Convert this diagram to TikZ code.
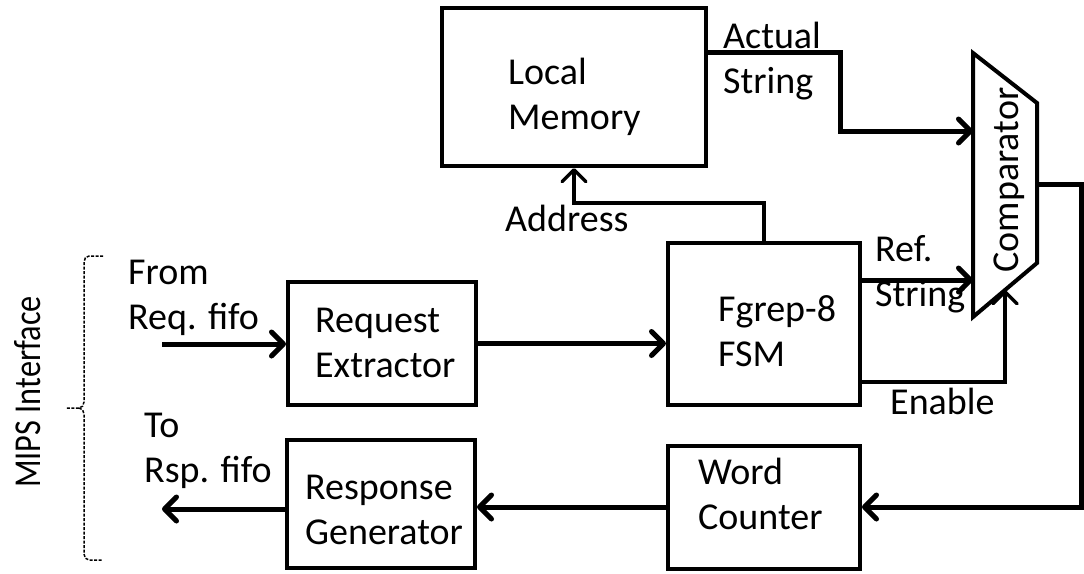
\documentclass[tikz,border=0pt]{standalone}
\usepackage{fontspec}
\setmainfont{Carlito}
\usetikzlibrary{arrows.meta,calc}
\tikzset{
  txt/.style={font=\fontsize{38}{45}\selectfont, inner sep=0pt},
  unit/.style={draw, line width=4pt, inner sep=0pt},
  wire/.style={line width=5pt},
  ctl/.style={line width=3.5pt},
  arr/.style={-{Straight Barb[length=12pt,width=24pt,round]}},
  lbl/.style={txt, anchor=north west, align=left},
  brace/.style={line width=1.5pt, dash pattern=on 3pt off 1.5pt},
}
\begin{document}
\begin{tikzpicture}[x=1pt,y=-1pt]
\useasboundingbox (0,0) rectangle (1084,573);

% functional blocks
\node[unit, minimum width=264pt, minimum height=158pt] (LM)  at (574,87)    {};
\node[unit, minimum width=188pt, minimum height=123pt] (RE)  at (382,343.5) {};
\node[unit, minimum width=192pt, minimum height=162pt] (FSM) at (764,324)   {};
\node[unit, minimum width=192pt, minimum height=123pt] (WC)  at (764,507)   {};
\node[unit, minimum width=188pt, minimum height=128pt] (RG)  at (381,504)   {};

% block names
\node[lbl] (LMt)  at (508,58)  {Local\\Memory};
\node[lbl] (REt)  at (315,308) {Request\\Extractor};
\node[lbl] (FSMt) at (718,295) {Fgrep-8\\FSM};
\node[lbl] (WCt)  at (698,458) {Word\\Counter};
\node[lbl] (RGt)  at (305,475) {Response\\Generator};

% comparator (trapezoid)
\coordinate (cTL) at (973,53);
\coordinate (cTR) at (1037,103);
\coordinate (cBR) at (1037,263);
\coordinate (cBL) at (973,317);
\draw[line width=4pt, line join=miter] (cTL) -- (cTR) -- (cBR) -- (cBL) -- cycle;
\node[txt, rotate=90, anchor=base] (CMP) at (1018,180) {Comparator};
\coordinate (cin1) at (973,131);
\coordinate (cin2) at (973,280);
\coordinate (cen)  at (1005,290);
\coordinate (cout) at (1037,184);

% external ports
\coordinate (reqin)  at (162,344);
\coordinate (rspout) at (162,509);

% connections
\draw[wire, arr] (reqin) -- (RE.west |- reqin);
\draw[wire, arr] (RE.east) -- (FSM.west |- RE.east);
\draw[wire, arr] (LM.east |- 0,52) -| (840,131) -- (cin1);
\draw[ctl, arr] (FSM.north) |- (LM.south |- 0,203) -- (LM.south);
\draw[wire, arr] (FSM.east |- 0,280) -- (cin2);
\draw[ctl, arr] (FSM.east |- 0,382) -| (cen);
\draw[wire, arr] (cout) -| (1081,507) -- (WC.east);
\draw[wire, arr] (WC.west) -- (RG.east |- WC.west);
\draw[wire, arr] (RG.west |- rspout) -- (rspout);

% signal labels
\node[lbl] (lActual) at (723,22)  {Actual\\String};
\node[lbl] (lAddr)   at (505,205) {Address};
\node[lbl] (lRef)    at (875,235) {Ref.\\String};
\node[lbl] (lEn)     at (890,388) {Enable};
\node[lbl] (lFrom)   at (128,260) {From\\Req. fifo};
\node[lbl] (lTo)     at (144,413) {To\\Rsp. fifo};

% interface bracket
\draw[brace] (103,256) -- (89,256) to[out=180,in=90] (84,262) -- (84,402)
  to[out=-90,in=0] (79,408) -- (66,408);
\draw[brace] (79,408) to[out=0,in=90] (84,414) -- (84,554)
  to[out=-90,in=180] (89,560) -- (103,560);
\node[txt, rotate=90, anchor=base] (MIPS) at (40,392) {\scalebox{0.85}[1]{MIPS Interface}};
\end{tikzpicture}
\end{document}
